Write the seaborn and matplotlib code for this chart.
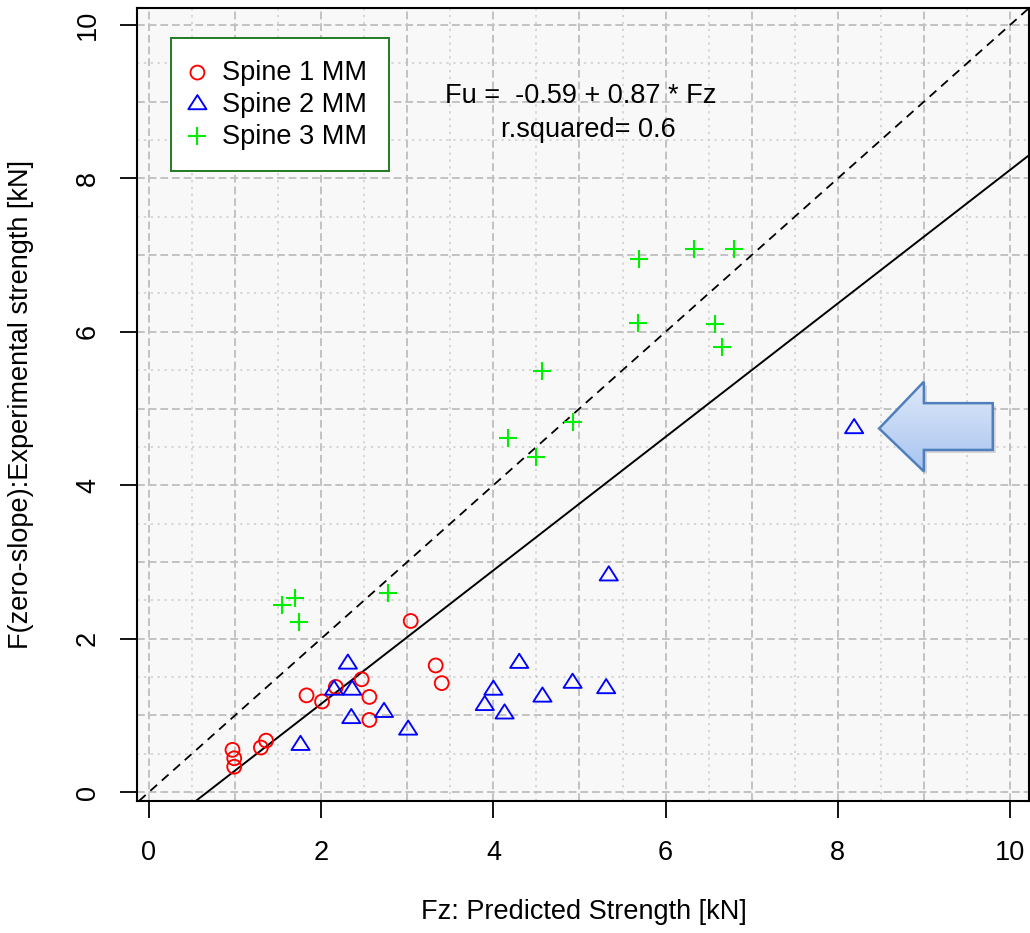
import numpy as np
import matplotlib
matplotlib.use("Agg")
import matplotlib.pyplot as plt
import matplotlib.transforms as mtransforms
from matplotlib.patches import Polygon
from matplotlib.path import Path
from matplotlib.colors import LinearSegmentedColormap
import seaborn as sns

# ---- data -------------------------------------------------------------
spine1_fz = [0.97, 0.99, 0.99, 1.30, 1.36, 1.83, 2.01, 2.17, 2.47, 2.56, 2.56, 3.04, 3.33, 3.40]
spine1_fu = [0.55, 0.44, 0.33, 0.58, 0.67, 1.26, 1.18, 1.37, 1.47, 1.24, 0.94, 2.23, 1.65, 1.42]

spine2_fz = [2.31, 2.15, 2.36, 2.35, 2.73, 3.01, 1.76, 4.30, 4.00, 3.90, 4.13, 4.57, 4.92, 5.31, 5.34, 8.19]
spine2_fu = [1.67, 1.33, 1.33, 0.96, 1.04, 0.81, 0.61, 1.68, 1.33, 1.13, 1.02, 1.24, 1.42, 1.35, 2.82, 4.74]

spine3_fz = [1.55, 1.70, 1.74, 2.78, 4.17, 4.49, 4.57, 4.92, 5.68, 5.69, 6.33, 6.57, 6.66, 6.79]
spine3_fu = [2.44, 2.53, 2.22, 2.60, 4.62, 4.37, 5.49, 4.82, 6.12, 6.95, 7.08, 6.10, 5.80, 7.08]

series_labels = ["Spine 1 MM", "Spine 2 MM", "Spine 3 MM"]

fit_intercept = -0.59
fit_slope = 0.87
fit_r2 = 0.6

tick_values = [0, 2, 4, 6, 8, 10]

# callout arrow outline (data units)
arrow_x = [8.48, 9.00, 9.00, 9.80, 9.80, 9.00, 9.00]
arrow_y = [4.74, 5.35, 5.07, 5.07, 4.46, 4.46, 4.18]

# ---- style ------------------------------------------------------------
sns.set_theme(style="white")
plt.rcParams["font.family"] = ["Liberation Sans", "DejaVu Sans"]
plt.rcParams["text.color"] = "black"
plt.rcParams["axes.labelcolor"] = "black"
plt.rcParams["xtick.color"] = "black"
plt.rcParams["ytick.color"] = "black"

fig = plt.figure(figsize=(10.30, 9.33), dpi=100)
ax = fig.add_axes([137 / 1030, 1 - 801 / 933, (1028.5 - 137) / 1030, (801 - 8) / 933])
ax.set_facecolor("#f8f8f8")

xlim = (-0.139, 10.215)
ylim = (-0.117, 10.222)

# background grid: dashed at whole numbers, dotted at halves
grid_major = np.arange(0, 11, 1)
grid_minor = np.arange(0.5, 10.6, 1)
for v in grid_major:
    ax.axvline(v, color="#c2c2c2", lw=1.4, ls=(0, (4, 2)), zorder=0.5)
    ax.axhline(v, color="#c2c2c2", lw=1.4, ls=(0, (4, 2)), zorder=0.5)
for v in grid_minor:
    ax.axvline(v, color="#cecece", lw=1.1, ls=(0, (1.5, 3)), zorder=0.4)
    ax.axhline(v, color="#cecece", lw=1.1, ls=(0, (1.5, 3)), zorder=0.4)

# reference lines
ax.axline((0, 0), slope=1, color="black", lw=1.3, ls=(0, (5, 3.5)), zorder=2)
ax.axline((0, fit_intercept), slope=fit_slope, color="black", lw=1.4, zorder=2)

# points (open triangle with its centroid on the data point)
tri = Path([(0, 2), (-1.92, -1), (1.92, -1), (0, 2)],
           [Path.MOVETO, Path.LINETO, Path.LINETO, Path.CLOSEPOLY])
sns.scatterplot(x=spine1_fz, y=spine1_fu, ax=ax, marker="o", s=10 ** 2,
                color="red", facecolors="none", edgecolor="red", linewidth=1.35,
                label=series_labels[0], zorder=3)
sns.scatterplot(x=spine2_fz, y=spine2_fu, ax=ax, marker=tri, s=13.6 ** 2,
                color="blue", facecolors="none", edgecolor="blue", linewidth=1.35,
                label=series_labels[1], zorder=3)
sns.scatterplot(x=spine3_fz, y=spine3_fu, ax=ax, marker="+", s=13 ** 2,
                color="#00ee00", linewidth=1.5,
                label=series_labels[2], zorder=3)

# regression text
ax.text(5.01, 8.98, f"Fu =  {fit_intercept} + {fit_slope} * Fz", ha="center",
        va="baseline", fontsize=19.5, color="black", zorder=4)
ax.text(5.10, 8.54, f"r.squared= {fit_r2}", ha="center", va="baseline",
        fontsize=19.5, color="black", zorder=4)

# callout arrow with soft shadow and vertical gradient
pts = np.column_stack([arrow_x, arrow_y])
shadow_tr = mtransforms.offset_copy(ax.transData, fig=fig, x=3, y=-3, units="dots")
ax.add_patch(Polygon(pts, closed=True, facecolor="#808080", edgecolor="none",
                     alpha=0.3, transform=shadow_tr, zorder=4))
outline = Polygon(pts, closed=True, facecolor="none", edgecolor="#4f7fbd",
                  lw=1.8, joinstyle="miter", zorder=6)
ax.add_patch(outline)
grad_cmap = LinearSegmentedColormap.from_list("arrowfill", ["#dfe9f9", "#a8c5f1"])
grad = np.linspace(0, 1, 256).reshape(-1, 1)
im = ax.imshow(grad, extent=[min(arrow_x), max(arrow_x), min(arrow_y), max(arrow_y)],
               origin="upper", cmap=grad_cmap, aspect="auto", interpolation="bilinear",
               zorder=5)
im.set_clip_path(outline)

ax.set_xlim(*xlim)
ax.set_ylim(*ylim)
ax.set_aspect("auto")

# axes, ticks, labels
for sp in ax.spines.values():
    sp.set_visible(True)
    sp.set_color("black")
    sp.set_linewidth(1.5)
ax.set_xticks(tick_values)
ax.set_yticks(tick_values)
ax.set_xticklabels([str(t) for t in tick_values])
ax.set_yticklabels([str(t) for t in tick_values], rotation=90, va="center")
ax.tick_params(axis="both", which="major", direction="out", length=12, width=1.3,
               color="black", labelsize=19.5, labelcolor="black",
               bottom=True, left=True, top=False, right=False)
ax.tick_params(axis="x", pad=16)
ax.tick_params(axis="y", pad=14)

ax.set_xlabel("Fz: Predicted Strength [kN]", fontsize=19.5, va="center", color="black")
ax.set_ylabel("F(zero-slope):Experimental strength [kN]", fontsize=19.5, va="center",
              color="black")
ax.xaxis.set_label_coords((584 - 137) / 891.5, -(912 - 801) / 793)
ax.yaxis.set_label_coords(-(137 - 21) / 891.5, 0.5)

leg = ax.legend(loc="upper left", bbox_to_anchor=((171 - 137) / 891.5, (801 - 38) / 793),
                borderaxespad=0, frameon=True, fancybox=False, framealpha=1,
                facecolor="white", edgecolor="#237a23", fontsize=19.5,
                borderpad=0.8, handlelength=0.35, handletextpad=0.75,
                labelspacing=0.22)
leg.get_frame().set_linewidth(1.4)
for t in leg.get_texts():
    t.set_color("black")
leg.set_zorder(7)

fig.savefig("out.png", dpi=100)
